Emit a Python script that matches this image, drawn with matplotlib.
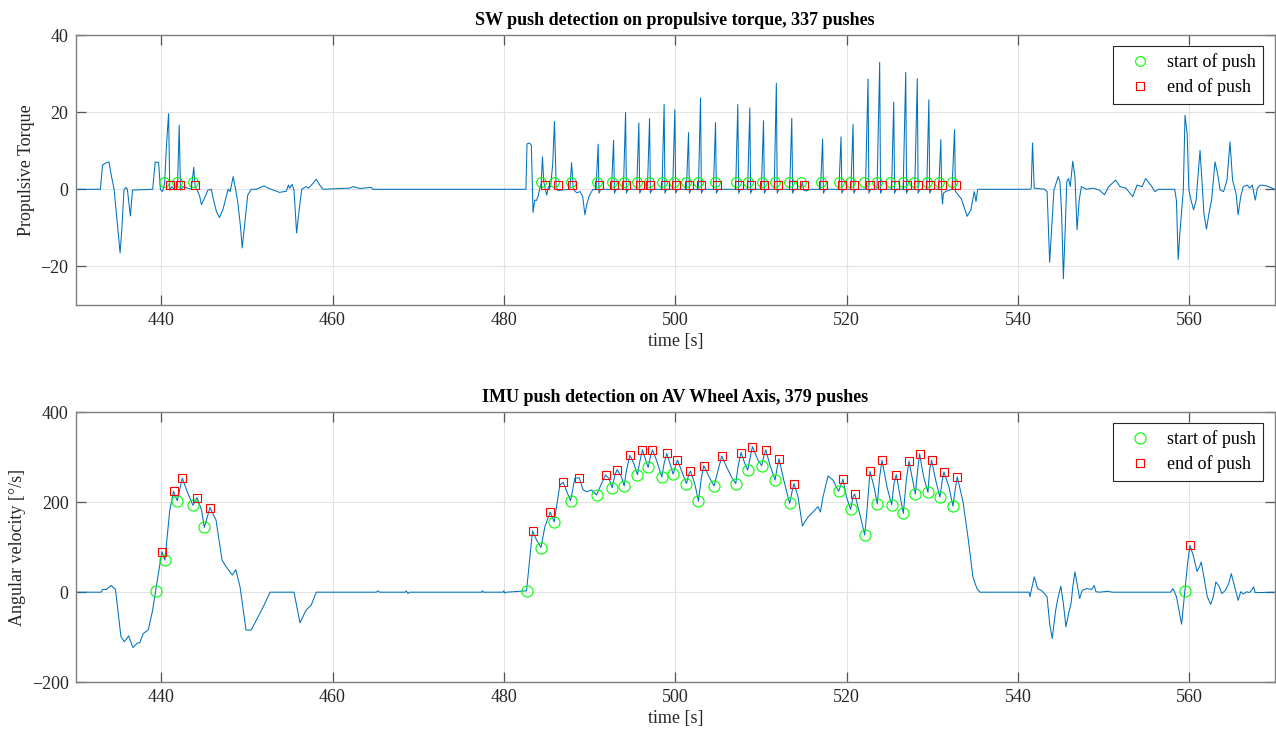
import numpy as np
import matplotlib
matplotlib.use("Agg")
import matplotlib.pyplot as plt

plt.rcParams['font.family'] = ['Liberation Serif', 'DejaVu Serif']
plt.rcParams['mathtext.fontset'] = 'stix'

# propulsive torque trace (time [s], torque)
torque_trace = [
    (430.0, 0), (432.9, 0), (433.15, 6.3), (433.6, 6.9), (433.9, 7.1), (434.2, 3.3),
    (434.5, 0), (434.8, -7.0), (435.2, -16.5), (435.4, -10.5), (435.65, -0.2), (435.9, 0.5),
    (436.05, 0), (436.4, -6.9), (436.65, -0.2), (439.0, 0), (439.3, 7.1), (439.7, 6.9),
    (439.9, 0), (440.15, -0.6), (440.4, 1.5), (440.6, 11.0), (440.86, 19.6), (441.0, -0.2),
    (441.25, 0.7), (441.6, -0.2), (441.9, 0.5), (442.1, 16.6), (442.25, -0.2), (442.5, 0.7),
    (443.5, 0), (443.8, 5.7), (443.95, 0.7), (444.2, -0.2), (444.5, -1.9), (444.7, -4.0),
    (445.05, -2.3), (445.45, -0.2), (445.85, 0), (446.1, -2.7), (446.45, -5.8), (446.8, -7.3),
    (447.2, -5.3), (447.8, 0), (448.05, -0.6), (448.4, 3.3), (448.7, -0.2), (448.95, -3.6),
    (449.25, -9.6), (449.45, -15.2), (449.75, -8.8), (450.1, -1.5), (450.5, 0), (451.1, 0),
    (452.0, 0.9), (452.5, 0.3), (453.1, -0.2), (453.8, -0.8), (454.6, -0.5), (454.85, 1.1),
    (455.0, 0.3), (455.28, 1.3), (455.5, -0.2), (455.8, -11.3), (456.1, -5.3), (456.4, 0),
    (456.9, 0.7), (457.2, 0.3), (457.7, 1.5), (458.1, 2.6), (458.5, 1.1), (458.9, 0),
    (462.0, 0.3), (462.4, 0.7), (463.2, 0.2), (464.5, 0.5), (464.7, 0), (482.57, 0),
    (482.7, 11.8), (483.0, 12.0), (483.2, 11.4), (483.4, -6.0), (483.6, -2.8), (483.8, -2.9),
    (484.0, -1.7), (484.2, 0.3), (484.35, 1.5), (484.5, 8.4), (484.65, 2.0), (484.8, 0.3),
    (485.0, -1.5), (485.2, 0.7), (485.45, 0.7), (485.7, 6.7), (485.9, 17.6), (486.1, 0.7),
    (486.3, -0.3), (487.7, 0), (487.9, 6.9), (488.1, 0), (488.5, -0.9), (488.9, -0.6),
    (489.2, -1.9), (489.45, -6.6), (489.7, -3.6), (490.0, -1.5), (490.4, 0),
    (490.75, 0), (491.0, 11.7), (491.1, -1.0), (491.3, 0),
    (492.55, 0), (492.8, 12.7), (492.9, -1.0), (493.1, 0),
    (493.95, 0), (494.2, 19.9), (494.3, -1.0), (494.5, 0),
    (495.5, 0), (495.75, 17.2), (495.85, -1.0), (496.05, 0),
    (496.75, 0), (497.0, 18.3), (497.1, -1.0), (497.3, 0),
    (498.45, 0), (498.7, 22.0), (498.8, -1.0), (499.0, 0),
    (499.7, 0), (499.95, 20.6), (500.05, -1.0), (500.25, 0),
    (501.3, 0), (501.55, 14.7), (501.65, -1.0), (501.85, 0),
    (502.7, 0), (502.95, 23.7), (503.05, -1.0), (503.25, 0),
    (504.45, 0), (504.7, 17.3), (504.8, -1.0), (505.0, 0),
    (507.05, 0), (507.3, 22.0), (507.4, -1.0), (507.6, 0),
    (508.45, 0), (508.7, 21.1), (508.8, -1.0), (509.0, 0),
    (510.05, 0), (510.3, 17.8), (510.4, -1.0), (510.6, 0),
    (511.55, 0), (511.8, 27.5), (511.9, -1.0), (512.1, 0),
    (513.35, 0), (513.6, 18.4), (513.7, -1.0), (513.9, 0),
    (514.6, 0), (514.85, 1.8), (515.0, -0.3), (515.3, -0.4), (515.8, 0),
    (516.95, 0), (517.2, 13.0), (517.3, -1.0), (517.5, 0),
    (519.1, 0), (519.35, 13.6), (519.45, -1.0), (519.65, 0),
    (520.5, 0), (520.75, 16.8), (520.85, -1.0), (521.05, 0),
    (522.2, 0), (522.5, 28.6), (522.6, -1.0), (522.8, 0),
    (523.55, 0), (523.86, 32.9), (523.96, -1.0), (524.15, 0),
    (525.25, 0), (525.5, 22.6), (525.6, -1.0), (525.8, 0),
    (526.6, 0), (526.9, 30.3), (527.0, -1.0), (527.2, 0),
    (527.95, 0), (528.25, 28.7), (528.35, -1.0), (528.55, 0),
    (529.35, 0), (529.6, 23.2), (529.7, -1.0), (529.9, 0),
    (530.75, 0), (531.0, 12.9), (531.1, -1.0), (531.2, -3.8), (531.3, -1.0), (531.6, -0.5),
    (532.3, 0), (532.6, 15.5), (532.7, -0.5), (533.1, -1.7), (533.4, -2.5), (533.7, -4.5),
    (534.06, -7.0), (534.5, -5.4), (534.9, -0.6), (535.1, -3.2), (535.3, 0), (541.4, 0),
    (541.55, 0.3), (541.7, 12.0), (541.9, 0.3), (543.1, 0), (543.4, -0.6), (543.7, -18.9),
    (543.9, -11.3), (544.2, -0.2), (544.7, 3.3), (544.9, 2.0), (545.1, -6.2), (545.3, -23.2),
    (545.5, -11.3), (545.7, 2.0), (545.9, 2.8), (546.1, 0.7), (546.4, 7.3), (546.65, 3.2),
    (546.9, -10.5), (547.15, -2.8), (547.4, 0.7), (548.0, 0), (548.8, 0.3), (549.5, -0.2),
    (550.1, -1.4), (550.6, 0.7), (551.4, 2.4), (551.9, 0.7), (552.6, 0.3), (553.4, -1.9),
    (553.9, 1.1), (554.5, 0.7), (554.9, 2.8), (555.5, 1.1), (556.0, -0.6), (556.4, 0),
    (558.3, 0), (558.5, -3.0), (558.7, -18.2), (558.9, -11.3), (559.3, -0.2), (559.5, 19.2),
    (559.75, 14.4), (559.95, -0.2), (560.2, -2.8), (560.5, -5.3), (560.8, -2.8), (561.25, 10.1),
    (561.45, 3.2), (561.7, -6.2), (562.0, -10.3), (562.3, -6.2), (562.6, -2.8), (563.0, 7.1),
    (563.3, 4.1), (563.6, -0.2), (564.0, -0.6), (564.4, 2.4), (564.75, 12.3), (565.05, 2.4),
    (565.45, -1.0), (565.7, -6.6), (566.0, -1.9), (566.3, 0.7), (566.75, 1.1), (567.05, 0.3),
    (567.35, 1.1), (567.7, -2.8), (567.95, 0.3), (568.3, 1.1), (569.0, 0.9), (570.0, 0),
]

sw_start_t = [440.35, 441.87, 443.73, 484.3, 485.8, 487.8, 490.9, 492.6, 494.0, 495.55, 496.9,
              498.5, 499.8, 501.3, 502.7, 504.6, 507.05, 508.5, 510.1, 511.65, 513.3, 514.7,
              517.0, 519.1, 520.4, 522.0, 523.55, 525.1, 526.6, 527.9, 529.35, 530.8, 532.3]
sw_end_t = [441.05, 442.25, 443.93, 484.8, 486.3, 488.0, 491.1, 492.9, 494.3, 495.9, 497.1,
            498.8, 500.1, 501.6, 503.05, 504.85, 507.4, 508.8, 510.4, 511.95, 513.7, 515.0,
            517.25, 519.5, 520.9, 522.7, 524.1, 525.65, 527.05, 528.35, 529.75, 531.15, 532.8]
sw_start_level = 2
sw_end_level = 1

# angular velocity on wheel axis (time [s], deg/s)
av_trace = [
    (430.0, 0), (433.0, 0), (433.15, 6), (433.6, 6), (434.15, 15), (434.66, 6),
    (435.3, -99), (435.7, -110), (436.2, -97), (436.7, -123), (437.2, -113), (437.5, -112),
    (437.9, -92), (438.5, -83), (439.0, -40), (439.34, 2), (440.08, 90), (440.43, 71),
    (441.0, 182), (441.44, 224), (441.87, 203), (442.46, 253), (443.1, 220), (443.7, 193),
    (444.17, 210), (444.7, 183), (445.03, 144), (445.69, 188), (446.4, 160), (447.1, 71),
    (447.6, 56), (448.3, 38), (448.7, 50), (449.2, 12), (449.9, -84), (450.5, -84),
    (451.1, -62), (451.9, -33), (452.7, 0), (455.5, 0), (456.2, -68), (456.9, -40),
    (457.5, -29), (458.1, 0), (465.1, 0), (465.3, 3), (465.5, 0), (468.5, 0),
    (468.6, 3), (468.8, -3), (469.0, 0), (477.4, 0), (477.5, 3), (477.6, 0),
    (479.9, 0), (480.0, 3), (480.1, -2), (480.3, 0), (482.64, 3),
    (483.34, 136), (483.81, 116), (484.32, 99), (484.78, 145), (485.40, 178), (485.87, 156),
    (486.53, 238), (486.92, 244), (487.43, 219), (487.78, 203), (488.28, 253), (488.79, 254),
    (489.25, 227), (489.64, 223), (490.23, 227), (490.81, 216), (491.39, 241), (491.86, 260),
    (492.25, 253), (492.64, 232), (492.95, 260), (493.22, 272), (493.72, 256), (494.04, 236),
    (494.31, 271), (494.70, 304), (495.16, 286), (495.59, 261), (495.86, 290), (496.17, 316),
    (496.52, 295), (496.84, 277), (497.11, 302), (497.34, 316), (497.81, 293), (498.43, 256),
    (498.70, 286), (499.01, 308), (499.44, 282), (499.75, 262), (500.06, 282), (500.26, 293),
    (500.84, 264), (501.31, 241), (501.62, 264), (501.77, 269), (502.28, 241), (502.71, 202),
    (503.06, 256), (503.33, 281), (503.95, 256), (504.53, 236), (505.00, 271), (505.43, 302),
    (505.97, 279), (506.56, 256), (507.06, 241), (507.33, 279), (507.68, 310), (508.11, 286),
    (508.46, 271), (508.77, 301), (509.00, 323), (509.67, 293), (510.09, 281), (510.37, 304),
    (510.56, 316), (511.10, 279), (511.65, 249), (511.92, 279), (512.11, 296), (512.66, 249),
    (513.36, 197), (513.67, 227), (513.86, 241), (514.33, 212), (514.84, 147), (515.50, 167),
    (516.08, 178), (516.66, 190), (516.94, 178), (517.25, 212), (517.83, 258), (518.41, 249),
    (519.07, 224), (519.39, 241), (519.58, 251), (519.97, 212), (520.47, 184), (520.75, 212),
    (520.94, 218), (521.52, 175), (522.11, 127), (522.38, 182), (522.73, 268), (523.20, 234),
    (523.58, 196), (523.86, 256), (524.13, 293), (524.71, 234), (525.26, 194), (525.53, 241),
    (525.80, 261), (526.19, 219), (526.62, 175), (526.97, 249), (527.28, 291), (527.63, 256),
    (528.02, 218), (528.29, 271), (528.52, 307), (528.99, 256), (529.49, 222), (529.69, 271),
    (529.92, 293), (530.39, 249), (530.89, 211), (531.17, 249), (531.36, 267), (531.94, 234),
    (532.41, 191), (532.72, 234), (532.92, 256), (533.58, 201), (534.16, 123), (534.74, 34),
    (535.21, 8), (535.56, 0), (541.3, 0), (541.4, -10), (541.9, 34), (542.3, 8),
    (542.8, 3), (543.4, -10), (543.7, -70), (544.0, -103), (544.4, -40), (544.7, -10),
    (545.0, 13), (545.3, -25), (545.6, -77), (545.9, -48), (546.2, -25), (546.4, 12),
    (546.65, 45), (546.9, 19), (547.2, -14), (547.5, 4), (548.0, 8), (548.6, 6),
    (548.9, 15), (549.1, 1), (549.5, 0), (550.5, 2), (551.0, 0), (557.8, 0),
    (558.1, 8), (558.5, -10), (559.1, -71), (559.49, 3), (559.8, 64), (560.08, 104),
    (560.5, 79), (560.9, 46), (561.2, 57), (561.4, 67), (561.7, 34), (562.1, -10),
    (562.5, -27), (562.8, -10), (563.1, 23), (563.5, 12), (563.8, -3), (564.2, 4),
    (564.6, 19), (564.9, 41), (565.3, 12), (565.7, -18), (566.0, 1), (566.3, -4),
    (566.7, 1), (567.0, -1), (567.3, 5), (567.5, 12), (567.7, -1), (570.0, 0),
]

imu_start_t = [439.34, 440.43, 441.87, 443.70, 445.03, 482.64, 484.32, 485.87, 487.78, 490.81,
               492.64, 494.04, 495.59, 496.84, 498.43, 499.75, 501.31, 502.71, 504.53, 507.06,
               508.46, 510.09, 511.65, 513.36, 519.07, 520.47, 522.11, 523.58, 525.26, 526.62,
               528.02, 529.49, 530.89, 532.41, 559.49]
imu_start_v = [2, 71, 203, 193, 144, 3, 99, 156, 203, 216,
               232, 236, 261, 277, 256, 262, 241, 202, 236, 241,
               271, 281, 249, 197, 224, 184, 127, 196, 194, 175,
               218, 222, 211, 191, 3]
imu_end_t = [440.08, 441.44, 442.46, 444.17, 445.69, 483.34, 485.40, 486.92, 488.79, 491.86,
             493.22, 494.70, 496.17, 497.34, 499.01, 500.26, 501.77, 503.33, 505.43, 507.68,
             509.00, 510.56, 512.11, 513.86, 519.58, 520.94, 522.73, 524.13, 525.80, 527.28,
             528.52, 529.92, 531.36, 532.92, 560.08]
imu_end_v = [90, 224, 253, 210, 188, 136, 178, 244, 254, 260,
             272, 304, 316, 316, 308, 293, 269, 281, 302, 310,
             323, 316, 296, 241, 251, 218, 268, 293, 261, 291,
             307, 293, 267, 256, 104]

line_col = '#0072BD'
start_col = '#00ff00'
end_col = '#ff0000'


def style_axes(ax, ylim, yticks):
    ax.set_xlim(430, 570)
    ax.set_ylim(*ylim)
    ax.set_xticks([440, 460, 480, 500, 520, 540, 560])
    ax.set_yticks(yticks)
    ax.grid(True, color='#e3e3e3', linewidth=0.8)
    ax.set_axisbelow(True)
    for s in ax.spines.values():
        s.set_color('#7f7f7f')
        s.set_linewidth(1.0)
    ax.tick_params(direction='in', top=True, right=True, length=7, width=0.9,
                   color='#555555', labelcolor='#262626', labelsize=13, pad=5)
    ax.set_xlabel('time [s]', fontsize=13, color='#262626', labelpad=3)


fig = plt.figure(figsize=(12.76, 7.36), dpi=100)
ax1 = fig.add_axes([0.0592, 0.5856, 0.9400, 0.3668])
ax2 = fig.add_axes([0.0592, 0.0730, 0.9400, 0.3672])

tt, tv = zip(*torque_trace)
ax1.plot(tt, tv, color=line_col, linewidth=0.75)
ax1.plot(sw_start_t, [sw_start_level] * len(sw_start_t), marker='o', color=start_col,
         mfc='none', mec=start_col, ms=7, mew=0.8, linestyle='none', label='start of push')
ax1.plot(sw_end_t, [sw_end_level] * len(sw_end_t), marker='s', color=end_col,
         mfc='none', mec=end_col, ms=6, mew=0.8, linestyle='none', label='end of push')
style_axes(ax1, (-30, 40), [-20, 0, 20, 40])
ax1.set_ylabel('Propulsive Torque', fontsize=13, color='#262626')
ax1.set_title('SW push detection on propulsive torque, 337 pushes', fontsize=13,
              fontweight='bold', pad=7)

at, av = zip(*av_trace)
ax2.plot(at, av, color=line_col, linewidth=0.75)
ax2.plot(imu_start_t, imu_start_v, marker='o', color=start_col, mfc='none', mec=start_col,
         ms=8, mew=0.8, linestyle='none', label='start of push')
ax2.plot(imu_end_t, imu_end_v, marker='s', color=end_col, mfc='none', mec=end_col,
         ms=6, mew=0.8, linestyle='none', label='end of push')
style_axes(ax2, (-200, 400), [-200, 0, 200, 400])
ax2.set_ylabel('Angular velocity [°/s]', fontsize=13, color='#262626')
ax2.set_title('IMU push detection on AV Wheel Axis, 379 pushes', fontsize=13,
              fontweight='bold', pad=7)

for ax in (ax1, ax2):
    leg = ax.legend(loc='upper right', bbox_to_anchor=(0.990, 0.959), borderaxespad=0,
                    fancybox=False, framealpha=1, edgecolor='#262626', fontsize=13,
                    handlelength=2.2, handletextpad=0.4, borderpad=0.4, labelspacing=0.4)
    leg.get_frame().set_linewidth(0.8)

fig.savefig('out.png', dpi=100)
